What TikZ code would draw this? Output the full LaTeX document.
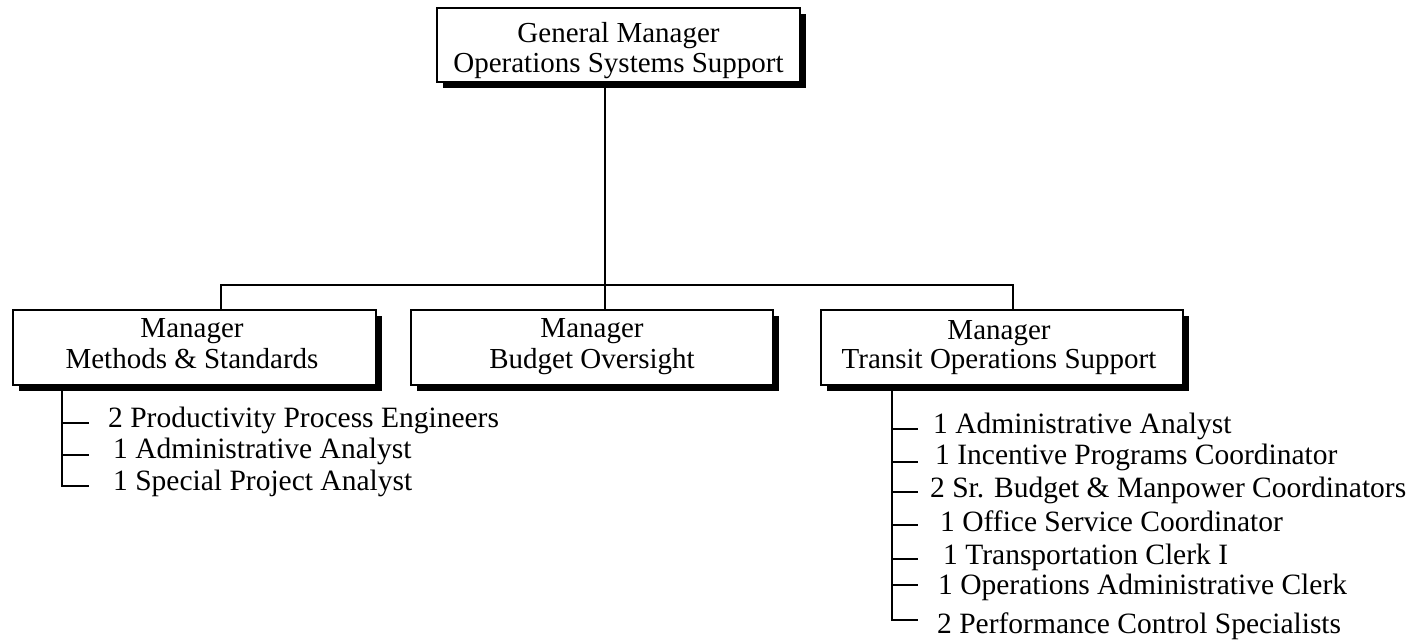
\documentclass[tikz,border=0pt]{standalone}
\usepackage{fontspec}
\setmainfont{Liberation Serif}
\usetikzlibrary{shadows}
\begin{document}
\begin{tikzpicture}[x=1pt,y=-1pt,
  box/.style={draw, line width=1.8pt, fill=white, inner sep=0pt,
    drop shadow={shadow xshift=6pt, shadow yshift=-6pt, fill=black, opacity=1}},
  boxtext/.style={align=center, inner sep=0pt, anchor=north,
    font=\fontsize{29}{31}\selectfont},
  item/.style={anchor=base west, inner sep=0pt, font=\fontsize{29.5}{31}\selectfont},
  conn/.style={line width=2pt}]
\useasboundingbox (0,0) rectangle (1420,642);

% boxes
\node[box, minimum width=363pt, minimum height=74pt] (gm) at (618.5,45) {};
\node[box, minimum width=363pt, minimum height=75pt] (m1) at (194.5,347.5) {};
\node[box, minimum width=362pt, minimum height=75pt] (m2) at (592,347.5) {};
\node[box, minimum width=362pt, minimum height=75pt] (m3) at (1002,347.5) {};

% box texts
\node[boxtext, font=\fontsize{29}{30}\selectfont] (gmt) at (618.5,22.5) {General Manager\\Operations Systems Support};
\node[boxtext] (m1t) at (192,318) {Manager\\Methods \& Standards};
\node[boxtext] (m2t) at (592,318) {Manager\\Budget Oversight};
\node[boxtext, font=\fontsize{29}{29}\selectfont] (m3t) at (999,320) {Manager\\Transit Operations Support};

% tree connectors
\coordinate (bus) at (605,285);
\coordinate (busL) at (221,285);
\coordinate (busR) at (1013,285);
\draw[conn] (gm.south -| bus) -- (m2.north -| bus);
\draw[conn] (m1.north -| busL) -- (busL) -- (busR) -- (m3.north -| busR);

% left list
\node[item] (l1) at (108,427) {2 Productivity Process Engineers};
\node[item] (l2) at (113,458) {1 Administrative Analyst};
\node[item] (l3) at (113,490) {1 Special Project Analyst};
\coordinate (t1) at (62,423);
\coordinate (t2) at (62,455);
\coordinate (t3) at (62,486);
\draw[conn] (m1.south -| t1) -- (t3) -- ++(27,0);
\draw[conn] (t1) -- ++(27,0);
\draw[conn] (t2) -- ++(27,0);

% right list
\node[item] (r1) at (933,433) {1 Administrative Analyst};
\node[item] (r2) at (935,464) {1 Incentive Programs Coordinator};
\node[item] (r3) at (930,497) {2 Sr. Budget \& Manpower Coordinators};
\node[item] (r4) at (940,531) {1 Office Service Coordinator};
\node[item] (r5) at (943,564) {1 Transportation Clerk I};
\node[item] (r6) at (938,594) {1 Operations Administrative Clerk};
\node[item] (r7) at (937,633) {2 Performance Control Specialists};
\coordinate (u1) at (892,429);
\coordinate (u2) at (892,462);
\coordinate (u3) at (892,492);
\coordinate (u4) at (892,525);
\coordinate (u5) at (892,559);
\coordinate (u6) at (892,585);
\coordinate (u7) at (892,620);
\draw[conn] (m3.south -| u1) -- (u7) -- ++(26,0);
\foreach \t in {u1,u2,u3,u4,u5,u6} \draw[conn] (\t) -- ++(26,0);
\end{tikzpicture}
\end{document}
